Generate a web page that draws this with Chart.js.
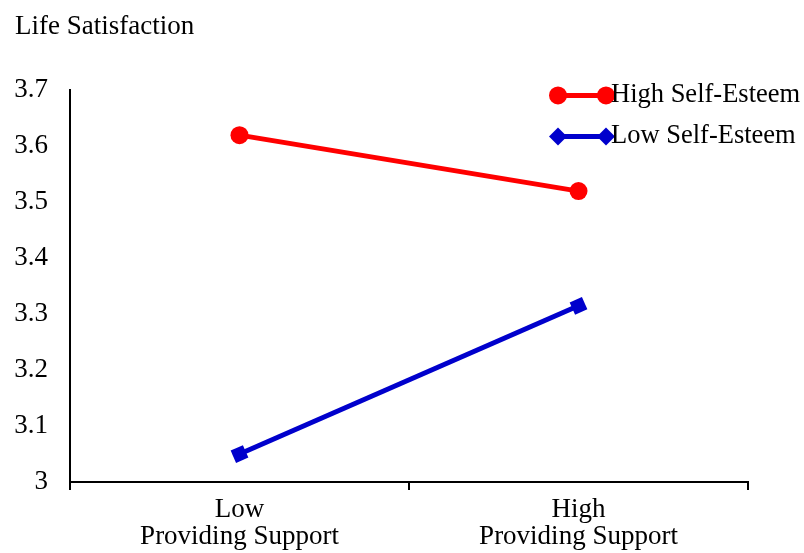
<!DOCTYPE html>
<html>
<head>
<meta charset="utf-8">
<script src="https://cdn.jsdelivr.net/npm/chart.js@4.4.1/dist/chart.umd.min.js"></script>
<style>
  html, body { margin: 0; padding: 0; background: #fff; }
  #wrap { width: 804px; height: 553px; }
</style>
</head>
<body>
<div id="wrap"><canvas id="chart"></canvas></div>
<script>
// values
const categories = [['Low', 'Providing Support'], ['High', 'Providing Support']];
const seriesNames = ['High Self-Esteem', 'Low Self-Esteem'];
const highSelfEsteem = [3.62, 3.52];
const lowSelfEsteem = [3.05, 3.315];
const yTicks = [3, 3.1, 3.2, 3.3, 3.4, 3.5, 3.6, 3.7];

const FONT = '"Liberation Serif", "Times New Roman", serif';

function drawMarker(ctx, style, x, y, r) {
    ctx.beginPath();
    if (style === 'circle') {
        ctx.arc(x, y, r, 0, Math.PI * 2);
    } else {
        ctx.moveTo(x - r, y);
        ctx.lineTo(x, y - r);
        ctx.lineTo(x + r, y);
        ctx.lineTo(x, y + r);
        ctx.closePath();
    }
    ctx.fill();
}

// legend like the Excel one: line with a marker at each end
const lineLegend = {
    id: 'lineLegend',
    afterDraw(chart) {
        const ctx = chart.ctx;
        const x0 = chart.chartArea.right - 190;
        let y = chart.chartArea.top + 5;
        chart.data.datasets.forEach(ds => {
            ctx.save();
            ctx.strokeStyle = ds.borderColor;
            ctx.lineWidth = 5;
            ctx.beginPath();
            ctx.moveTo(x0, y);
            ctx.lineTo(x0 + 48, y);
            ctx.stroke();
            ctx.fillStyle = ds.pointBackgroundColor;
            drawMarker(ctx, ds.legendMarker, x0, y, 9);
            drawMarker(ctx, ds.legendMarker, x0 + 48, y, 9);
            ctx.fillStyle = '#000';
            ctx.font = '26.5px ' + FONT;
            ctx.textBaseline = 'middle';
            ctx.fillText(ds.label, x0 + 53, y);
            ctx.restore();
            y += 41;
        });
    }
};

new Chart(document.getElementById('chart'), {
    type: 'line',
    data: {
        labels: categories,
        datasets: [{
            label: seriesNames[0],
            data: highSelfEsteem,
            borderColor: '#ff0000',
            backgroundColor: '#ff0000',
            pointBackgroundColor: '#ff0000',
            pointBorderWidth: 0,
            borderWidth: 5,
            pointStyle: 'circle',
            pointRadius: 9,
            pointHoverRadius: 9,
            legendMarker: 'circle'
        }, {
            label: seriesNames[1],
            data: lowSelfEsteem,
            borderColor: '#0000cc',
            backgroundColor: '#0000cc',
            pointBackgroundColor: '#0000cc',
            pointBorderWidth: 0,
            borderWidth: 5,
            pointStyle: 'rect',
            pointRotation: -24,
            pointRadius: 9.5,
            pointHoverRadius: 9.5,
            legendMarker: 'diamond'
        }]
    },
    options: {
        responsive: true,
        maintainAspectRatio: false,
        animation: false,
        layout: { padding: { left: 15, right: 56, top: 0, bottom: 0 } },
        plugins: {
            legend: { display: false },
            tooltip: { enabled: false },
            title: {
                display: true,
                text: 'Life Satisfaction',
                align: 'start',
                color: '#000',
                font: { family: FONT, size: 27, weight: 'normal', lineHeight: 1.2 },
                padding: { top: 11, bottom: 47 }
            }
        },
        scales: {
            x: {
                type: 'category',
                offset: true,
                grid: {
                    offset: true,
                    drawOnChartArea: false,
                    drawTicks: true,
                    tickLength: 8,
                    color: '#000',
                    lineWidth: 2
                },
                border: { color: '#000', width: 2 },
                ticks: {
                    color: '#000',
                    maxRotation: 0,
                    padding: 6,
                    font: { family: FONT, size: 27, lineHeight: 1.0 }
                },
                afterFit(scale) { scale.height = 71; }
            },
            y: {
                min: 3,
                max: 3.7,
                afterBuildTicks(scale) {
                    scale.ticks = yTicks.map(v => ({ value: v }));
                },
                grid: { display: false, drawTicks: false },
                border: { color: '#000', width: 2 },
                ticks: {
                    color: '#000',
                    padding: 22,
                    font: { family: FONT, size: 27 },
                    callback: v => String(Math.round(v * 10) / 10)
                },
                afterFit(scale) { scale.width = 55; }
            }
        }
    },
    plugins: [lineLegend]
});
</script>
</body>
</html>
